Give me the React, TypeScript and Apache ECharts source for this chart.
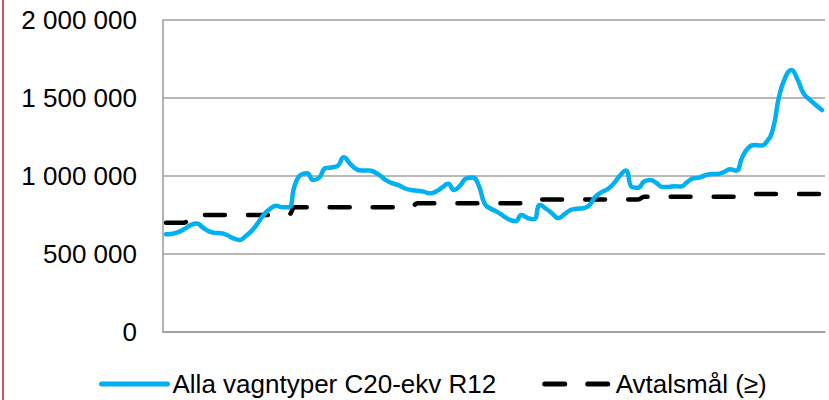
import React, { useEffect, useRef } from "react";
import * as echarts from "echarts";

const seriesNames = ["Alla vagntyper C20-ekv R12", "Avtalsmål (≥)"];

const categories: string[] = [];
for (let y = 2009; y <= 2017; y++) {
  for (let m = 1; m <= 12; m++) categories.push(`${y}-${m < 10 ? "0" + m : m}`);
}

const actualValues = [
  626000, 630000, 640000, 660000, 685000, 695000, 670000, 645000, 635000, 633000, 620000, 600000,
  590000, 615000, 650000, 700000, 755000, 790000, 810000, 800000, 800000, 940000, 1008000, 1017000,
  975000, 990000, 1050000, 1055000, 1065000, 1120000, 1080000, 1045000, 1035000, 1035000, 1025000, 1000000,
  970000, 953000, 940000, 920000, 910000, 906000, 900000, 889000, 900000, 925000, 950000, 910000,
  940000, 985000, 990000, 940000, 820000, 790000, 770000, 745000, 720000, 710000, 750000, 730000,
  722000, 814000, 790000, 760000, 730000, 755000, 782000, 790000, 793000, 810000, 865000, 895000,
  915000, 950000, 1000000, 1035000, 930000, 925000, 965000, 975000, 955000, 930000, 930000, 935000,
  932000, 960000, 985000, 990000, 1005000, 1013000, 1013000, 1025000, 1043000, 1034000, 1120000, 1180000,
  1199000, 1195000, 1220000, 1300000, 1508000, 1630000, 1680000, 1620000, 1530000, 1490000, 1455000, 1423000,
];

const targetValues = [
  700000, 700000, 700000, 700000, 750000, 750000, 750000, 750000, 750000, 750000, 750000, 750000,
  750000, 750000, 750000, 750000, 750000, 750000, 750000, 750000, 750000, 800000, 800000, 800000,
  800000, 800000, 800000, 800000, 800000, 800000, 800000, 800000, 800000, 800000, 800000, 800000,
  800000, 800000, 800000, 800000, 800000, 825000, 825000, 825000, 825000, 825000, 825000, 825000,
  825000, 825000, 825000, 825000, 825000, 825000, 825000, 825000, 825000, 825000, 825000, 825000,
  850000, 850000, 850000, 850000, 850000, 850000, 850000, 850000, 850000, 850000, 850000, 850000,
  850000, 850000, 850000, 850000, 850000, 850000, 867000, 867000, 867000, 867000, 867000, 867000,
  867000, 867000, 867000, 867000, 867000, 867000, 867000, 867000, 867000, 867000, 885000, 885000,
  885000, 885000, 885000, 885000, 885000, 885000, 885000, 885000, 885000, 885000, 885000, 885000,
];

const FONT = '"Liberation Sans", Arial, sans-serif';
const BLUE = "#00B0F0";

export default function App() {
  const ref = useRef<HTMLDivElement>(null);
  useEffect(() => {
    if (!ref.current) return;
    const chart = echarts.init(ref.current, undefined, { renderer: "svg" });
    chart.setOption({
      animation: false,
      backgroundColor: "#ffffff",
      grid: { left: 163, right: 4, top: 20, bottom: 68, containLabel: false },
      graphic: [
        {
          type: "line",
          shape: { x1: 3, y1: 0, x2: 3, y2: 400 },
          style: { stroke: "#C0143C", lineWidth: 1.5 },
        },
      ],
      legend: {
        left: 94,
        top: 366,
        itemWidth: 66,
        itemHeight: 14,
        itemGap: 46,
        itemStyle: { opacity: 0 },
        textStyle: { fontSize: 26, color: "#000", fontFamily: FONT },
        data: [
          {
            name: seriesNames[0],
            itemStyle: { opacity: 0 },
            lineStyle: { color: BLUE, width: 5, cap: "round" },
          },
          {
            name: seriesNames[1],
            itemStyle: { opacity: 0 },
            lineStyle: { color: "#000", width: 5, type: [20, 23], cap: "round" },
          },
        ],
      },
      xAxis: {
        type: "category",
        data: categories,
        boundaryGap: true,
        axisLine: { show: true, lineStyle: { color: "#9a9a9a", width: 1.5 } },
        axisTick: { show: false },
        axisLabel: { show: false },
        splitLine: { show: false },
      },
      yAxis: {
        type: "value",
        min: 0,
        max: 2000000,
        interval: 500000,
        axisLine: { show: true, lineStyle: { color: "#9a9a9a", width: 1.5 } },
        axisTick: { show: false },
        axisLabel: {
          fontSize: 26,
          color: "#000",
          fontFamily: FONT,
          margin: 26,
          formatter: (v: number) => String(v).replace(/\B(?=(\d{3})+(?!\d))/g, " "),
        },
        splitLine: { show: true, lineStyle: { color: "#a0a0a0", width: 1.5 } },
      },
      series: [
        {
          name: seriesNames[0],
          type: "line",
          data: actualValues,
          symbol: "none",
          smooth: 0.5,
          lineStyle: { color: BLUE, width: 4.5, cap: "round", join: "round" },
          itemStyle: { color: BLUE },
          z: 3,
        },
        {
          name: seriesNames[1],
          type: "line",
          data: targetValues,
          symbol: "none",
          smooth: 0.4,
          lineStyle: { color: "#000", width: 4.5, type: [20, 23], cap: "round" },
          itemStyle: { color: "#000" },
          z: 2,
        },
      ],
    });
    return () => chart.dispose();
  }, []);
  return (
    <div
      ref={ref}
      style={{ position: "absolute", left: 0, top: 0, width: 829, height: 400 }}
    />
  );
}
